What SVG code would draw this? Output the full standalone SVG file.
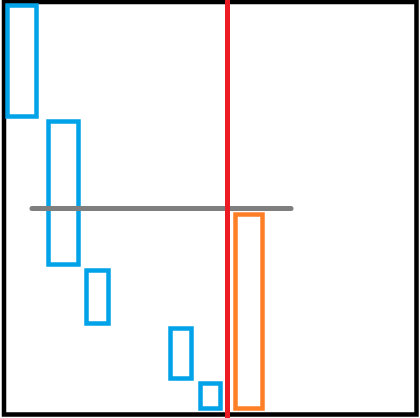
<svg xmlns="http://www.w3.org/2000/svg" width="420" height="418" viewBox="0 0 420 418">
<style>
.frame{fill:none;stroke:#000;stroke-width:4.5}
.blue{fill:none;stroke:#00A2E8;stroke-width:4.5}
.orange{fill:none;stroke:#FF7F27;stroke-width:4.5}
.gray{stroke:#7F7F7F;stroke-width:5;stroke-linecap:round}
.red{stroke:#ED1C24;stroke-width:5}
</style>
<rect width="420" height="418" fill="#fff"/>
<rect class="frame" x="4" y="2" width="412.5" height="412.5"/>
<g id="b1"><rect class="blue" x="7.5" y="5.5" width="29" height="111"/></g>
<g id="b2"><rect class="blue" x="48.5" y="121.5" width="30" height="143"/></g>
<g id="b3"><rect class="blue" x="86.5" y="270.5" width="22" height="53"/></g>
<g id="b4"><rect class="blue" x="170.5" y="328.5" width="21" height="50"/></g>
<g id="b5"><rect class="blue" x="200.5" y="383.5" width="20" height="25"/></g>
<g id="o1"><rect class="orange" x="235.5" y="214.5" width="27" height="194"/></g>
<g id="connectors">
<line class="gray" x1="32" y1="208.5" x2="291" y2="208.5"/>
<line class="red" x1="227.5" y1="0" x2="227.5" y2="418"/>
</g>
</svg>
